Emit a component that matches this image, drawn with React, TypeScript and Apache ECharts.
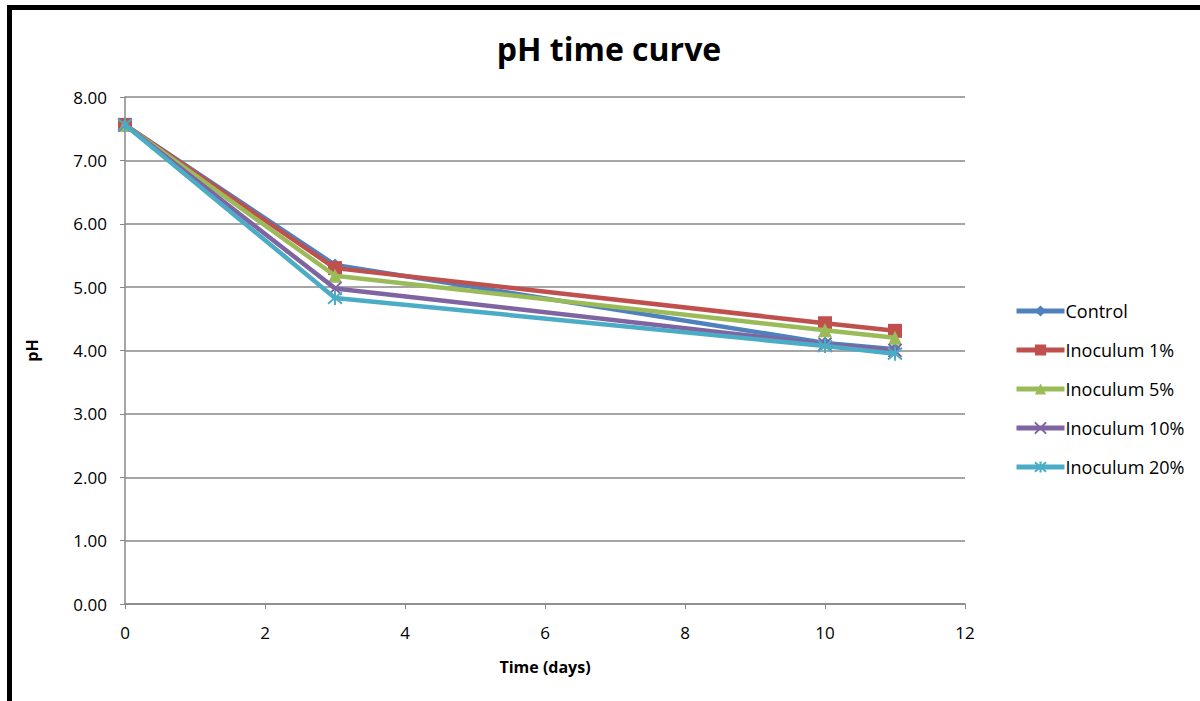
import React, { useEffect, useRef } from "react";
import * as echarts from "echarts";

const days = [0, 3, 10, 11];
const seriesNames = ["Control", "Inoculum 1%", "Inoculum 5%", "Inoculum 10%", "Inoculum 20%"];
const control = [7.56, 5.35, 4.12, 4.02];
const inoc1 = [7.56, 5.3, 4.43, 4.31];
const inoc5 = [7.56, 5.18, 4.32, 4.2];
const inoc10 = [7.56, 4.98, 4.1, 4.0];
const inoc20 = [7.56, 4.83, 4.07, 3.95];
const colors = ["#4F81BD", "#C0504D", "#9BBB59", "#8064A2", "#4BACC6"];
const symbols = [
  "diamond",
  "rect",
  "triangle",
  "path://M0,0L10,10M10,0L0,10",
  "path://M0,0L10,10M10,0L0,10M5,-1L5,11",
];
const symbolSizes = [13, 14, 14, 13, 14];

export default function App() {
  const ref = useRef<HTMLDivElement>(null);
  useEffect(() => {
    if (!ref.current) return;
    const chart = echarts.init(ref.current, null, { renderer: "svg" });
    const values = [control, inoc1, inoc5, inoc10, inoc20];
    const font = "'Open Sans', 'Noto Sans', sans-serif";
    chart.setOption({
      animation: false,
      backgroundColor: "#ffffff",
      title: {
        text: "pH time curve",
        left: 604,
        top: 27,
        textAlign: "center",
        textStyle: { fontSize: 32, fontWeight: "bold", color: "#000", fontFamily: font },
      },
      legend: {
        orient: "vertical",
        left: 1009,
        top: 297,
        itemWidth: 48,
        itemHeight: 14,
        itemGap: 21,
        data: seriesNames,
        lineStyle: { width: 5 },
        textStyle: { fontSize: 18, color: "#000", fontFamily: font, padding: [0, 0, 0, -4] },
      },
      grid: { left: 125, right: 235, top: 97, bottom: 97, containLabel: false },
      xAxis: {
        type: "value",
        min: 0,
        max: 12,
        interval: 2,
        name: "Time (days)",
        nameLocation: "middle",
        nameGap: 55,
        nameTextStyle: { fontSize: 16, fontWeight: "bold", color: "#000", fontFamily: font },
        axisLine: { show: true, lineStyle: { color: "#888", width: 1.5 } },
        axisTick: { show: true, length: 5, lineStyle: { color: "#888" } },
        axisLabel: { fontSize: 17, color: "#000", fontFamily: font, margin: 20 },
        splitLine: { show: false },
      },
      yAxis: {
        type: "value",
        min: 0,
        max: 8,
        interval: 1,
        name: "pH",
        nameLocation: "middle",
        nameGap: 85,
        nameRotate: 90,
        nameTextStyle: { fontSize: 16, fontWeight: "bold", color: "#000", fontFamily: font },
        axisLine: { show: true, lineStyle: { color: "#888", width: 1.5 } },
        axisTick: { show: true, length: 5, lineStyle: { color: "#888" } },
        axisLabel: {
          fontSize: 17,
          color: "#000",
          fontFamily: font,
          margin: 18,
          formatter: (v: number) => v.toFixed(2),
        },
        splitLine: { show: true, lineStyle: { color: "#888", width: 1.5 } },
      },
      graphic: [
        {
          type: "rect",
          shape: { x: 9.5, y: 7.5, width: 1400, height: 900 },
          style: { fill: "none", stroke: "#000", lineWidth: 5 },
          silent: true,
        },
      ],
      series: seriesNames.map((name, i) => ({
        name,
        type: "line",
        data: days.map((d, j) => [d, values[i][j]]),
        symbol: symbols[i],
        symbolSize: symbolSizes[i],
        showAllSymbol: true,
        lineStyle: { color: colors[i], width: 4.5 },
        itemStyle: {
          color: colors[i],
          borderColor: colors[i],
          borderWidth: i >= 3 ? 2 : 0,
        },
        z: 2 + i,
      })),
    });
    return () => chart.dispose();
  }, []);
  return (
    <div
      ref={ref}
      style={{ position: "fixed", left: 0, top: 0, width: 1200, height: 701 }}
    />
  );
}
